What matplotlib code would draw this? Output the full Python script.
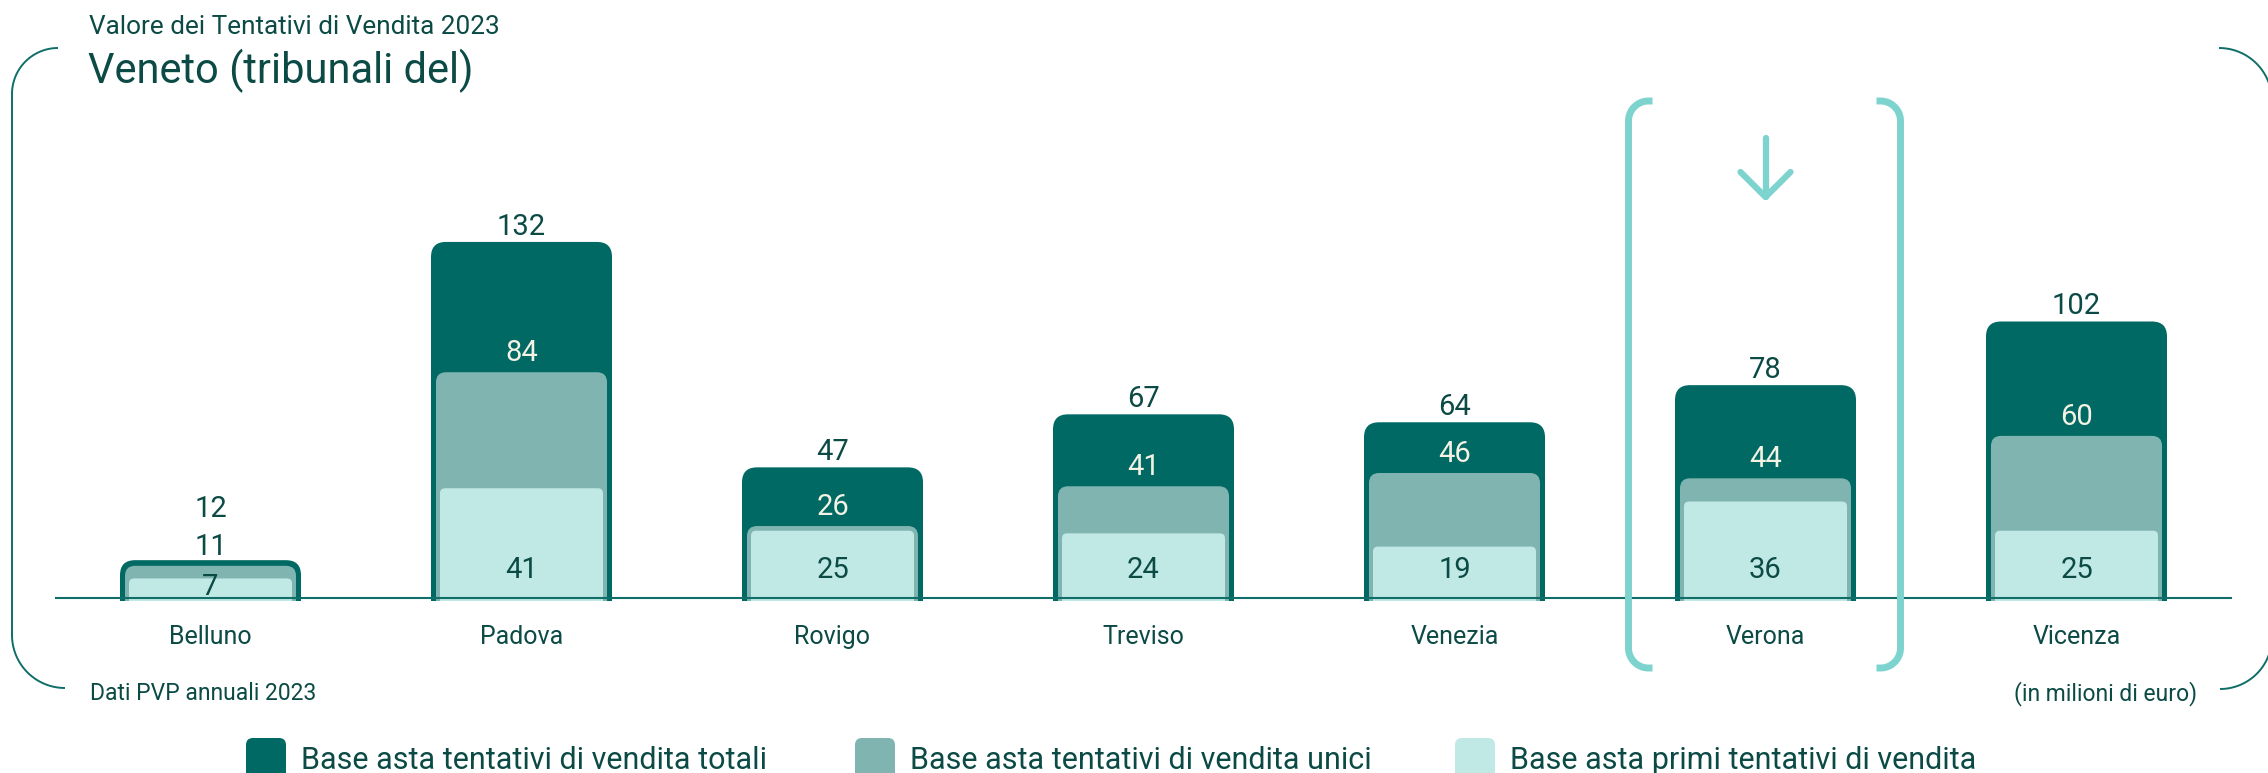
import numpy as np
import matplotlib
matplotlib.use('Agg')
import matplotlib.pyplot as plt
from matplotlib.patches import FancyBboxPatch

# dati (milioni di euro)
tribunali = ['Belluno', 'Padova', 'Rovigo', 'Treviso', 'Venezia', 'Verona', 'Vicenza']
totali = [12, 132, 47, 67, 64, 78, 102]
unici = [11, 84, 26, 41, 46, 44, 60]
primi = [7, 41, 25, 24, 19, 36, 25]
serie = ['Base asta tentativi di vendita totali',
         'Base asta tentativi di vendita unici',
         'Base asta primi tentativi di vendita']
evidenziato = 'Verona'

plt.rcParams['font.family'] = ['Roboto', 'DejaVu Sans']

W, H = 2268, 773
C_DARK = '#006963'
C_MID = '#80b4b1'
C_LIGHT = '#c0e9e5'
C_TEXT = '#0b4a45'
C_LINE = '#0f6e68'
C_HL = '#7dd4cf'
C_WHITE = '#f4f2e4'

fig = plt.figure(figsize=(W / 100, H / 100), dpi=100)
fig.patch.set_facecolor('white')

# main axes: baseline at y=598px, x from 55 to 2232px
ymin, ymax = -1.2, 180
px_per_y = 2.652
ax_bot = 598 + (-ymin) * px_per_y
ax_top = 598 - ymax * px_per_y
ax = fig.add_axes([55 / W, 1 - ax_bot / H, (2232 - 55) / W, (ax_bot - ax_top) / H])
ax.set_xlim(-0.5, len(tribunali) - 0.5)
ax.set_ylim(ymin, ymax)
px_per_x = (2232 - 55) / len(tribunali)
aspect = px_per_x / px_per_y

for s in ax.spines.values():
    s.set_visible(False)
ax.set_yticks([])
x = np.arange(len(tribunali))
ax.set_xticks(x, tribunali)
ax.tick_params(axis='x', length=0, pad=17, labelsize=18, labelcolor=C_TEXT)
ax.axhline(0, color=C_LINE, lw=1.5, zorder=5)


def rounded(bars, r_px, pad_px, color, z):
    # turn the plain bars into bars with rounded top corners (+ a thin rim on top)
    rx = r_px / px_per_x
    ry = rx * aspect
    for b in bars:
        x0, w, h = b.get_x(), b.get_width(), b.get_height()
        b.remove()
        extra = ry + 2
        p = FancyBboxPatch((x0, -extra), w, h + extra + pad_px / px_per_y,
                           boxstyle=f'round,pad=0,rounding_size={rx}',
                           mutation_aspect=aspect, fc=color, ec='none', zorder=z)
        ax.add_patch(p)


rounded(ax.bar(x, totali, width=181 / px_per_x), 15, 6, C_DARK, 2)
rounded(ax.bar(x, unici, width=171 / px_per_x), 10, 3, C_MID, 3)
rounded(ax.bar(x, primi, width=163 / px_per_x), 5, 1, C_LIGHT, 4)

to_pt = 72 / 100
for i in range(len(tribunali)):
    tot_px = totali[i] * px_per_y + 6
    mid_px = unici[i] * px_per_y + 3
    low_px = primi[i] * px_per_y
    mid_lab = mid_px + 19
    tot_lab = max(tot_px + 15, mid_lab + 38)
    low_lab = min(28, low_px * 0.6)
    inside = (tot_px - mid_px) > 33
    ax.annotate(str(totali[i]), (i, 0), xytext=(0, tot_lab * to_pt), textcoords='offset points',
                ha='center', va='center', fontsize=21, color=C_TEXT, zorder=6)
    ax.annotate(str(unici[i]), (i, 0), xytext=(0, mid_lab * to_pt), textcoords='offset points',
                ha='center', va='center', fontsize=21, color=C_WHITE if inside else C_TEXT, zorder=6)
    ax.annotate(str(primi[i]), (i, 0), xytext=(0, low_lab * to_pt), textcoords='offset points',
                ha='center', va='center', fontsize=21, color=C_TEXT, zorder=6)

# overlay in pixel coordinates (y downwards)
ov = fig.add_axes([0, 0, 1, 1])
ov.set_xlim(0, W)
ov.set_ylim(H, 0)
ov.axis('off')
ov.patch.set_visible(False)


def arc(cx, cy, r, t0, t1, n=40):
    t = np.radians(np.linspace(t0, t1, n))
    return cx + r * np.cos(t), cy - r * np.sin(t)


def join(*parts):
    xs = np.concatenate([p[0] for p in parts])
    ys = np.concatenate([p[1] for p in parts])
    return xs, ys


# outer frame
fx, fy = join(arc(12 + 46, 48 + 46, 46, 90, 180), arc(12 + 53, 688 - 53, 53, 180, 270))
ov.plot(fx, fy, color=C_LINE, lw=1.4, solid_capstyle='butt')
fx, fy = join(arc(2272 - 53, 48 + 53, 53, 90, 0), arc(2272 - 52, 689 - 52, 52, 0, -90))
ov.plot(fx, fy, color=C_LINE, lw=1.4, solid_capstyle='butt')

# highlight bracket around Verona
xc = ax.transData.transform((tribunali.index(evidenziato), 0))[0]
r = 20
lx, rxp = xc - 137, xc + 135
top, bot = 101, 668
bx, by = join((np.array([lx + 24]), np.array([top])), arc(lx + r, top + r, r, 90, 180),
              arc(lx + r, bot - r, r, 180, 270), (np.array([lx + 24]), np.array([bot])))
ov.plot(bx, by, color=C_HL, lw=5, solid_capstyle='butt')
bx, by = join((np.array([rxp - 24]), np.array([top])), arc(rxp - r, top + r, r, 90, 0),
              arc(rxp - r, bot - r, r, 0, -90), (np.array([rxp - 24]), np.array([bot])))
ov.plot(bx, by, color=C_HL, lw=5, solid_capstyle='butt')
# arrow
ov.plot([xc, xc], [138, 197], color=C_HL, lw=4.5, solid_capstyle='round')
ov.plot([xc - 25, xc, xc + 25], [172, 197, 172], color=C_HL, lw=4.5,
        solid_capstyle='round', solid_joinstyle='round')

# titles and notes
ov.text(89, 34, 'Valore dei Tentativi di Vendita 2023', fontsize=18.8, color=C_TEXT, va='baseline')
ov.text(88, 83, 'Veneto (tribunali del)', fontsize=30, color=C_TEXT, va='baseline')
ov.text(90, 700, 'Dati PVP annuali 2023', fontsize=16.5, color=C_TEXT, va='baseline')
ov.text(2197, 700, '(in milioni di euro)', fontsize=16.5, color=C_TEXT, va='baseline', ha='right')

# legend
leg_x = [246, 855, 1455]
for lx0, col, lab in zip(leg_x, [C_DARK, C_MID, C_LIGHT], serie):
    ov.add_patch(FancyBboxPatch((lx0, 738), 40, 50, boxstyle='round,pad=0,rounding_size=7',
                                fc=col, ec='none'))
    ov.text(lx0 + 55, 769, lab, fontsize=22, color=C_TEXT, va='baseline')

fig.savefig('out.png', dpi=100)
